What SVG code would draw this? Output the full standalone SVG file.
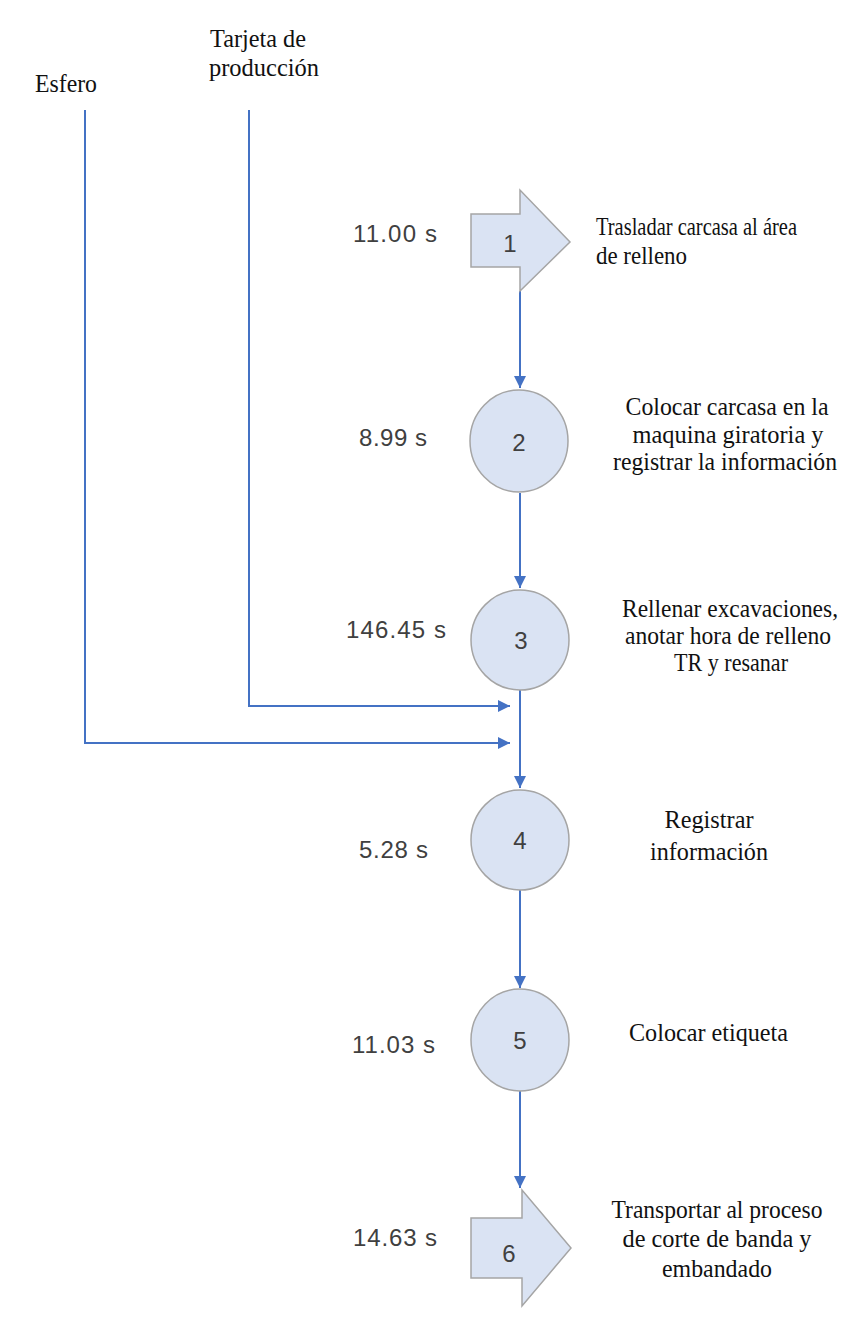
<svg xmlns="http://www.w3.org/2000/svg" width="859" height="1327" viewBox="0 0 859 1327">
  <style>
    .shape { fill: #dae3f3; stroke: #a5a5a5; stroke-width: 1.5; }
    .num { font-family: "Liberation Sans", Arial, sans-serif; font-size: 24px; fill: #404040; text-anchor: middle; }
    .time { font-family: "Liberation Sans", Arial, sans-serif; font-size: 24px; fill: #404040; }
    .desc { font-family: "Liberation Serif", "Times New Roman", serif; font-size: 25px; fill: #111; }
    .mid { text-anchor: middle; }
    .conn { fill: none; stroke: #4472c4; stroke-width: 2; }
  </style>
  <defs>
    <marker id="head" viewBox="0 0 10 10" refX="10" refY="5" markerWidth="6" markerHeight="6" markerUnits="strokeWidth" orient="auto">
      <path d="M0,0 L10,5 L0,10 z" fill="#4472c4"/>
    </marker>
  </defs>
  <rect width="859" height="1327" fill="#ffffff"/>

  <!-- inputs -->
  <g id="input-esfero">
    <text class="desc" x="35" y="92" textLength="62" lengthAdjust="spacingAndGlyphs">Esfero</text>
  </g>
  <g id="input-tarjeta">
    <text class="desc" x="210" y="47" textLength="96" lengthAdjust="spacingAndGlyphs">Tarjeta de</text>
    <text class="desc" x="209" y="76" textLength="110" lengthAdjust="spacingAndGlyphs">producción</text>
  </g>

  <!-- connectors -->
  <g id="connectors">
    <path class="conn" d="M520,291 V388" marker-end="url(#head)"/>
    <path class="conn" d="M520,493 V588" marker-end="url(#head)"/>
    <path class="conn" d="M520,690 V788" marker-end="url(#head)"/>
    <path class="conn" d="M520,890 V988" marker-end="url(#head)"/>
    <path class="conn" d="M520,1091 V1188" marker-end="url(#head)"/>
    <path class="conn" d="M249,110 V706 H510" marker-end="url(#head)"/>
    <path class="conn" d="M85,110 V743 H510" marker-end="url(#head)"/>
  </g>

  <!-- step 1: transport -->
  <g id="step1">
    <path class="shape" d="M471,214 H520 V190 L570,242 L520,291 V267 H471 Z"/>
    <text class="num" x="510" y="252">1</text>
    <text class="time" x="353" y="242" textLength="84" lengthAdjust="spacing">11.00 s</text>
    <text class="desc" x="596" y="235" textLength="201" lengthAdjust="spacingAndGlyphs">Trasladar carcasa al área</text>
    <text class="desc" x="596" y="264" textLength="91" lengthAdjust="spacingAndGlyphs">de relleno</text>
  </g>

  <!-- step 2 -->
  <g id="step2">
    <ellipse class="shape" cx="519" cy="441" rx="49" ry="51"/>
    <text class="num" x="519" y="451">2</text>
    <text class="time" x="359" y="446" textLength="68" lengthAdjust="spacing">8.99 s</text>
    <text class="desc mid" x="727" y="415" textLength="203" lengthAdjust="spacingAndGlyphs">Colocar carcasa en la</text>
    <text class="desc mid" x="728" y="443" textLength="191" lengthAdjust="spacingAndGlyphs">maquina giratoria y</text>
    <text class="desc mid" x="725" y="470" textLength="224" lengthAdjust="spacingAndGlyphs">registrar la información</text>
  </g>

  <!-- step 3 -->
  <g id="step3">
    <ellipse class="shape" cx="520" cy="640" rx="49" ry="50"/>
    <text class="num" x="521" y="649">3</text>
    <text class="time" x="346" y="638" textLength="100" lengthAdjust="spacing">146.45 s</text>
    <text class="desc mid" x="730" y="617" textLength="216" lengthAdjust="spacingAndGlyphs">Rellenar excavaciones,</text>
    <text class="desc mid" x="728" y="644" textLength="206" lengthAdjust="spacingAndGlyphs">anotar hora de relleno</text>
    <text class="desc mid" x="731" y="671" textLength="114" lengthAdjust="spacingAndGlyphs">TR y resanar</text>
  </g>

  <!-- step 4 -->
  <g id="step4">
    <ellipse class="shape" cx="520" cy="840" rx="49" ry="50"/>
    <text class="num" x="520" y="849">4</text>
    <text class="time" x="359" y="858" textLength="69" lengthAdjust="spacing">5.28 s</text>
    <text class="desc mid" x="709" y="828" textLength="89" lengthAdjust="spacingAndGlyphs">Registrar</text>
    <text class="desc mid" x="709" y="860" textLength="118" lengthAdjust="spacingAndGlyphs">información</text>
  </g>

  <!-- step 5 -->
  <g id="step5">
    <ellipse class="shape" cx="520" cy="1040" rx="49" ry="51"/>
    <text class="num" x="520" y="1049">5</text>
    <text class="time" x="352" y="1053" textLength="83" lengthAdjust="spacing">11.03 s</text>
    <text class="desc" x="629" y="1041" textLength="159" lengthAdjust="spacingAndGlyphs">Colocar etiqueta</text>
  </g>

  <!-- step 6: transport -->
  <g id="step6">
    <path class="shape" d="M471,1218 H522 V1190 L571,1248 L522,1306 V1278 H471 Z"/>
    <text class="num" x="509" y="1262">6</text>
    <text class="time" x="353" y="1246" textLength="84" lengthAdjust="spacing">14.63 s</text>
    <text class="desc mid" x="717" y="1218" textLength="211" lengthAdjust="spacingAndGlyphs">Transportar al proceso</text>
    <text class="desc mid" x="717" y="1247" textLength="189" lengthAdjust="spacingAndGlyphs">de corte de banda y</text>
    <text class="desc mid" x="717" y="1277" textLength="110" lengthAdjust="spacingAndGlyphs">embandado</text>
  </g>
</svg>
